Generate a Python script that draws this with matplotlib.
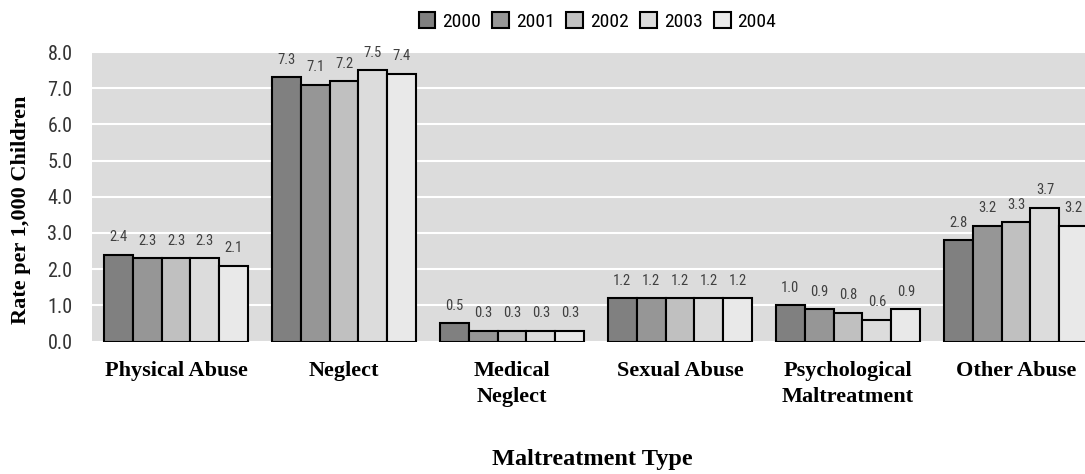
import os
import matplotlib
matplotlib.use("Agg")
import matplotlib.pyplot as plt
from matplotlib import font_manager as fm
import numpy as np

categories = ["Physical Abuse", "Neglect", "Medical\nNeglect", "Sexual Abuse",
              "Psychological\nMaltreatment", "Other Abuse"]
years = ["2000", "2001", "2002", "2003", "2004"]
values = {
    "2000": [2.4, 7.3, 0.5, 1.2, 1.0, 2.8],
    "2001": [2.3, 7.1, 0.3, 1.2, 0.9, 3.2],
    "2002": [2.3, 7.2, 0.3, 1.2, 0.8, 3.3],
    "2003": [2.3, 7.5, 0.3, 1.2, 0.6, 3.7],
    "2004": [2.1, 7.4, 0.3, 1.2, 0.9, 3.2],
}
yticks = [0, 1, 2, 3, 4, 5, 6, 7, 8]
colors = ["#808080", "#969696", "#C0C0C0", "#DCDCDC", "#E9E9E9"]


def find_narrow():
    prefs = ["liberationsansnarrow-regular", "arialn.", "arial narrow",
             "robotocondensed-regular", "roboto_condensed-regular",
             "dejavusanscondensed.ttf", "notosans-condensed.ttf",
             "notosans-semicondensed.ttf", "opensans-condensed", "opensans_condensed"]
    cands = []
    for f in fm.fontManager.ttflist:
        fn = os.path.basename(f.fname).lower()
        nm = f.name.lower()
        if f.style != "normal":
            continue
        if str(f.weight).lower() not in ("400", "normal", "regular", "book"):
            continue
        if ("narrow" in nm or "condensed" in nm or "narrow" in fn or "condensed" in fn
                or str(f.stretch) in ("condensed", "semi-condensed")):
            cands.append(f)
    for p in prefs:
        for f in cands:
            if p in os.path.basename(f.fname).lower() or p in f.name.lower():
                return f.fname
    for f in cands:
        if "extra" not in f.fname.lower() and "bold" not in f.fname.lower():
            return f.fname
    return None


narrow_file = find_narrow()


def nprop(size):
    if narrow_file:
        return fm.FontProperties(fname=narrow_file, size=size)
    return fm.FontProperties(family="DejaVu Sans", size=size)


serif = "Liberation Serif"

fig = plt.figure(figsize=(10.85, 4.74), dpi=100)
W, H = 1085, 474
left, right, top, bottom = 92, 1100, 52, 341.5
ax = fig.add_axes([left / W, 1 - bottom / H, (right - left) / W, (bottom - top) / H])
ax.set_facecolor("#DCDCDC")
for s in ax.spines.values():
    s.set_visible(False)

x = np.arange(len(categories))
bw = 0.172
n = len(years)
handles = []
for i, y in enumerate(years):
    offs = (i - (n - 1) / 2) * bw
    b = ax.bar(x + offs, values[y], bw, color=colors[i], edgecolor="black",
               linewidth=1.5, label=y, zorder=3)
    handles.append(b)
    for xi, v in zip(x + offs, values[y]):
        ax.annotate(f"{v:.1f}", (xi, v), xytext=(0, 7.5), textcoords="offset points",
                    ha="center", va="bottom", fontproperties=nprop(10.5),
                    color="#404040", zorder=4)

ax.set_xlim(-0.5, len(categories) - 0.5)
ax.set_ylim(0, 8)
ax.set_yticks(yticks)
ax.set_yticklabels([f"{t:.1f}" for t in yticks], fontproperties=nprop(14.5), color="#333333")
ax.yaxis.grid(True, color="white", linewidth=1.5, zorder=0)
ax.set_axisbelow(True)
ax.tick_params(axis="both", length=0)
ax.tick_params(axis="y", pad=14)
ax.set_xticks(x)
ax.set_xticklabels(categories, family=serif, fontweight="bold", fontsize=16,
                   linespacing=1.42, color="black")
ax.tick_params(axis="x", pad=14)

fig.text(21.5 / W, 1 - 210 / H, "Rate per 1,000 Children", family=serif,
         fontweight="bold", fontsize=16, rotation=90, ha="center", va="center")
fig.text(592 / W, 1 - 459 / H, "Maltreatment Type", family=serif, fontweight="bold",
         fontsize=17.5, ha="center", va="center")

lp = nprop(14)
fig.legend(handles=handles, labels=years, loc="center", ncol=5,
           bbox_to_anchor=(597.5 / W, 1 - 21.5 / H), frameon=False,
           prop=lp, handlelength=0.86, handleheight=0.86,
           handletextpad=0.36, columnspacing=0.58, borderpad=0, borderaxespad=0)

fig.savefig("out.png", dpi=100)
